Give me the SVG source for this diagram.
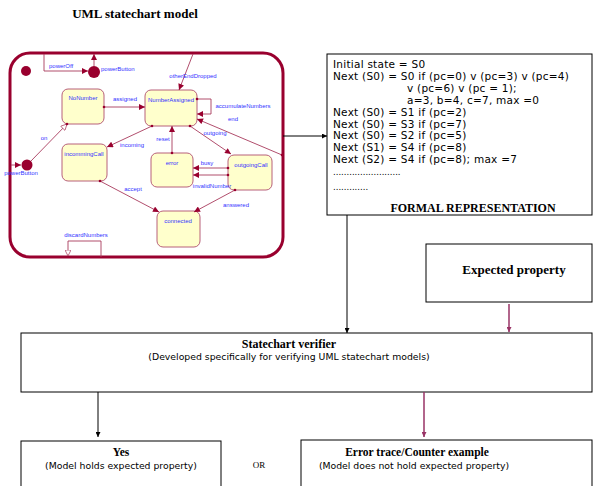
<svg xmlns="http://www.w3.org/2000/svg" width="593" height="486" viewBox="0 0 593 486">
<style>
.bx{fill:#fff;stroke:#000;stroke-width:1}
.st{fill:#ffffcc;stroke:#b8607a;stroke-width:1}
.tr{fill:none;stroke:#a83a5c;stroke-width:0.9}
.lb{font-family:"Liberation Sans",Arial,sans-serif;font-size:6px;fill:#3333ff}
.sn{font-family:"Liberation Sans",Arial,sans-serif;font-size:6px;fill:#3333ff;text-anchor:middle}
.fm{font-family:"DejaVu Sans",Verdana,sans-serif;font-size:10.5px;letter-spacing:0.25px;fill:#000}
.hb{font-family:"Liberation Serif","Times New Roman",serif;font-weight:bold;fill:#000;text-anchor:middle}
.sub{font-family:"DejaVu Sans",Verdana,sans-serif;font-size:9.3px;fill:#000;text-anchor:middle}
.dot{fill:#99002e}
</style>
<defs>
<marker id="ah" viewBox="0 0 10 10" refX="10" refY="5" markerWidth="7" markerHeight="6" markerUnits="userSpaceOnUse" orient="auto"><path d="M0,0 L10,5 L0,10 z" fill="#99002e"/></marker>
<marker id="op" viewBox="0 0 10 10" refX="10" refY="5" markerWidth="7" markerHeight="6" markerUnits="userSpaceOnUse" orient="auto"><path d="M0,0 L10,5 L0,10 z" fill="#fff" stroke="#a83a5c" stroke-width="1.2"/></marker>
<marker id="bk" viewBox="0 0 10 10" refX="10" refY="5" markerWidth="6" markerHeight="5" markerUnits="userSpaceOnUse" orient="auto"><path d="M0,0 L10,5 L0,10 z" fill="#000"/></marker>
<marker id="pm" viewBox="0 0 10 10" refX="10" refY="5" markerWidth="6" markerHeight="5" markerUnits="userSpaceOnUse" orient="auto"><path d="M0,0 L10,5 L0,10 z" fill="#993366"/></marker>
</defs>
<rect width="593" height="486" fill="#fff"/>
<text class="hb" x="135" y="18" font-size="13">UML statechart model</text>

<g id="statechart">
<rect x="10" y="53" width="273" height="204" rx="20" fill="none" stroke="#99002e" stroke-width="3"/>
<circle id="initial" class="dot" cx="26" cy="71" r="5"/>
<circle id="powerButtonTop" class="dot" cx="94" cy="72" r="6"/>
<circle id="powerButtonLeft" class="dot" cx="27" cy="165" r="5.5"/>
</g>

<g id="NoNumber"><rect class="st" x="62" y="89" width="42" height="35" rx="6"/><text class="sn" x="83" y="100">NoNumber</text></g>
<g id="NumberAssigned"><rect class="st" x="145" y="90" width="52" height="36" rx="6"/><text class="sn" x="171" y="102">NumberAssigned</text></g>
<g id="incommingCall"><rect class="st" x="62" y="144" width="45" height="37" rx="6"/><text class="sn" x="84" y="156">incommingCall</text></g>
<g id="error"><rect class="st" x="151" y="153" width="42" height="34" rx="6"/><text class="sn" x="172" y="165">error</text></g>
<g id="outgoingCall"><rect class="st" x="228" y="155" width="44" height="35" rx="6"/><text class="sn" x="251" y="167">outgoingCall</text></g>
<g id="connected"><rect class="st" x="157" y="211" width="43" height="36" rx="6"/><text class="sn" x="178" y="223">connected</text></g>

<g id="formal">
<rect class="bx" x="327" y="54" width="265" height="161"/>
<text class="fm" x="333" y="68">Initial state = S0</text>
<text class="fm" x="333" y="80">Next (S0) = S0 if (pc=0) v (pc=3) v (pc=4)</text>
<text class="fm" x="407" y="92">v (pc=6) v (pc = 1);</text>
<text class="fm" x="407" y="104">a=3, b=4, c=7, max =0</text>
<text class="fm" x="333" y="116">Next (S0) = S1 if (pc=2)</text>
<text class="fm" x="333" y="128">Next (S0) = S3 if (pc=7)</text>
<text class="fm" x="333" y="139">Next (S0) = S2 if (pc=5)</text>
<text class="fm" x="333" y="151">Next (S1) = S4 if (pc=8)</text>
<text class="fm" x="333" y="163">Next (S2) = S4 if (pc=8); max =7</text>
<text class="fm" x="333" y="175" style="font-size:8.5px;letter-spacing:0">.........................</text>
<text class="fm" x="333" y="190" style="font-size:8.5px;letter-spacing:0">.............</text>
<text class="hb" x="473" y="212" font-size="12">FORMAL REPRESENTATION</text>
</g>

<g id="expected">
<rect class="bx" x="426" y="244" width="166" height="58"/>
<text class="hb" x="514" y="274" font-size="13">Expected property</text>
</g>

<g id="verifier">
<rect class="bx" x="21" y="333" width="571" height="59"/>
<text class="hb" x="289" y="348" font-size="12">Statechart verifier</text>
<text class="sub" x="289" y="360">(Developed specifically for verifying UML statechart models)</text>
</g>

<g id="yes">
<rect class="bx" x="21" y="441" width="200" height="50"/>
<text class="hb" x="121" y="456" font-size="11.5">Yes</text>
<text class="sub" x="121" y="469">(Model holds expected property)</text>
</g>

<g id="or"><text class="hb" x="259" y="468" style="font-size:9px;font-weight:normal">OR</text></g>

<g id="errortrace">
<rect class="bx" x="301" y="440" width="291" height="50"/>
<text class="hb" x="417" y="456" font-size="11.5">Error trace/Counter example</text>
<text class="sub" x="414" y="469">(Model does not hold expected property)</text>
</g>

<g id="connectors">
<path class="tr" d="M44,54 V71 H88" marker-end="url(#ah)"/>
<path class="tr" d="M94,66 V54" marker-end="url(#ah)"/>
<path class="tr" d="M104,107 H145" marker-end="url(#ah)"/>
<path class="tr" d="M193,54 L179,90" marker-end="url(#ah)"/>
<path class="tr" d="M197,99 H211 V114 H197" marker-end="url(#ah)"/>
<path class="tr" d="M282,155 L197,119" marker-end="url(#ah)"/>
<path class="tr" d="M190,126 L231,154" marker-end="url(#ah)"/>
<path class="tr" d="M172,153 V126" marker-end="url(#ah)"/>
<path class="tr" d="M152,126 L107,147" marker-end="url(#ah)"/>
<path class="tr" d="M31,161 L67,124" marker-end="url(#op)"/>
<path class="tr" d="M11,165 H21" marker-end="url(#ah)"/>
<path class="tr" d="M100,181 L159,212" marker-end="url(#ah)"/>
<path class="tr" d="M228,168 H193" marker-end="url(#ah)"/>
<path class="tr" d="M228,175 H193" marker-end="url(#ah)"/>
<path class="tr" d="M235,190 L194,212" marker-end="url(#ah)"/>
<path class="tr" d="M101,257 V241 H68 V256" marker-end="url(#op)"/>
<g fill="#99002e">
<circle cx="104" cy="107" r="1.3"/><circle cx="197" cy="99" r="1.3"/><circle cx="190" cy="126" r="1.3"/>
<circle cx="172" cy="153" r="1.3"/><circle cx="152" cy="126" r="1.3"/><circle cx="100" cy="181" r="1.3"/>
<circle cx="228" cy="168" r="1.3"/><circle cx="228" cy="175" r="1.3"/><circle cx="235" cy="190" r="1.3"/>
<circle cx="282" cy="155" r="1.3"/><circle cx="67" cy="124" r="1.3"/>
</g>
<text class="lb" x="49" y="68">powerOff</text>
<text class="lb" x="101" y="71">powerButton</text>
<text class="sn" x="125" y="101">assigned</text>
<text class="sn" x="193" y="78">otherEndDropped</text>
<text class="sn" x="243" y="108">accumulateNumbers</text>
<text class="sn" x="233" y="121">end</text>
<text class="sn" x="215" y="135">outgoing</text>
<text class="sn" x="163" y="141">reset</text>
<text class="sn" x="132" y="147">incoming</text>
<text class="sn" x="44" y="140">on</text>
<text class="sn" x="21" y="175">powerButton</text>
<text class="sn" x="133" y="191">accept</text>
<text class="sn" x="207" y="165">busy</text>
<text class="sn" x="212" y="188">invalidNumber</text>
<text class="sn" x="236" y="207">answered</text>
<text class="sn" x="86" y="237">discardNumbers</text>

<path d="M283,136 H327" stroke="#000" stroke-width="1" fill="none" marker-end="url(#bk)"/>
<path d="M347,215 V333" stroke="#000" stroke-width="1" fill="none" marker-end="url(#bk)"/>
<path d="M509,304 V332" stroke="#993366" stroke-width="1.5" fill="none" marker-end="url(#pm)"/>
<path d="M98,392 V437" stroke="#000" stroke-width="1" fill="none" marker-end="url(#bk)"/>
<path d="M424,392 V437" stroke="#993366" stroke-width="1.5" fill="none" marker-end="url(#pm)"/>
</g>
</svg>
